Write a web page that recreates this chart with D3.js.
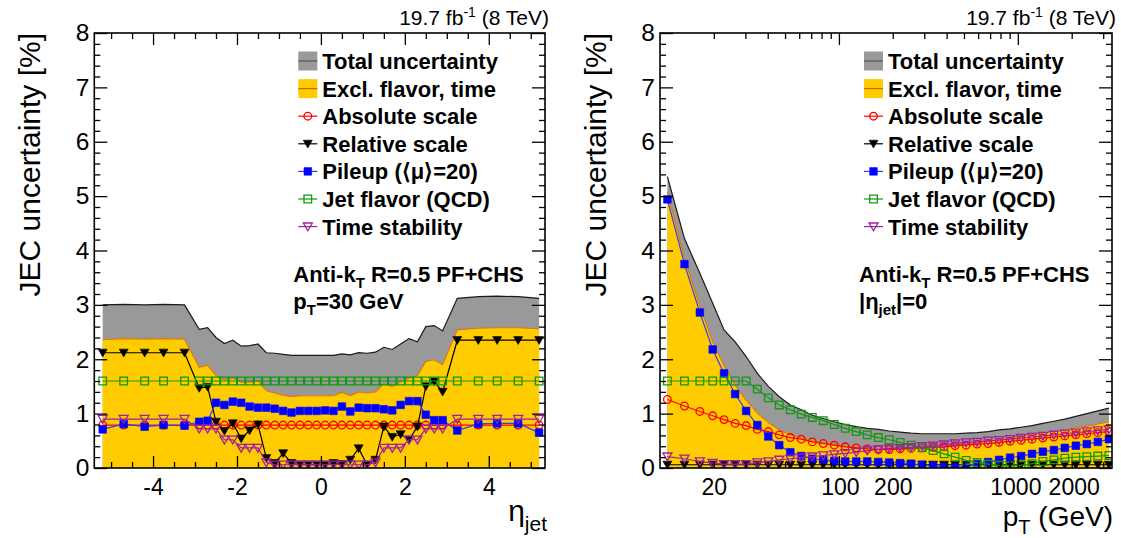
<!DOCTYPE html>
<html><head><meta charset="utf-8">
<script src="https://cdn.jsdelivr.net/npm/d3@7/dist/d3.min.js"></script>
<style>
html,body{margin:0;padding:0;background:#fff;}
svg{display:block;}
text{font-family:"Liberation Sans",Arial,Helvetica,sans-serif;fill:#000;}
</style></head><body>
<svg id="chart" width="1121" height="538"></svg>
<script>
// ---------------- Left panel: vs eta (pT = 30 GeV) ----------------
const etaPoints = [-5.2,-4.7,-4.2,-3.75,-3.25,-2.9,-2.7,-2.5,-2.3,-2.1,-1.9,-1.7,-1.5,-1.3,-1.1,-0.9,-0.7,-0.5,-0.3,-0.1,
                   0.1,0.3,0.5,0.7,0.9,1.1,1.3,1.5,1.7,1.9,2.1,2.3,2.5,2.7,2.9,3.25,3.75,4.2,4.7,5.2];
const etaTotal = [3.00,3.01,3.00,3.01,3.00,2.55,2.58,2.40,2.29,2.35,2.24,2.25,2.28,2.12,2.11,2.09,2.07,2.07,2.07,2.07,
                  2.07,2.07,2.10,2.08,2.12,2.11,2.13,2.22,2.18,2.28,2.38,2.32,2.60,2.62,2.52,3.12,3.15,3.16,3.15,3.12];
const etaExcl = [2.36,2.38,2.37,2.38,2.37,1.85,1.89,1.70,1.62,1.65,1.58,1.58,1.60,1.42,1.38,1.34,1.31,1.33,1.33,1.33,
                 1.33,1.33,1.39,1.33,1.40,1.38,1.40,1.55,1.50,1.58,1.65,1.70,1.96,1.99,1.90,2.54,2.57,2.58,2.58,2.56];
const etaAbsolute = [0.79,0.79,0.79,0.79,0.79,0.79,0.79,0.79,0.79,0.79,0.79,0.79,0.79,0.79,0.79,0.79,0.79,0.79,0.79,0.79,
                     0.79,0.79,0.79,0.79,0.79,0.79,0.79,0.79,0.79,0.79,0.79,0.79,0.79,0.79,0.79,0.79,0.79,0.79,0.79,0.79];
const etaRelative = [2.12,2.12,2.12,2.12,2.12,1.47,1.49,0.85,0.68,0.82,0.54,0.69,0.80,0.18,0.09,0.27,0.09,0.06,0.06,0.06,
                     0.06,0.09,0.07,0.15,0.36,0.06,0.15,0.76,0.57,0.62,0.52,0.76,1.50,1.59,1.40,2.35,2.35,2.35,2.35,2.35];
const etaPileup = [0.71,0.81,0.76,0.79,0.78,0.85,0.87,1.20,1.16,1.22,1.20,1.13,1.11,1.11,1.09,1.05,1.02,1.05,1.05,1.05,
                   1.06,1.05,1.13,1.04,1.11,1.10,1.10,1.08,1.06,1.16,1.23,1.23,0.98,0.88,0.88,0.69,0.81,0.82,0.82,0.65];
const etaFlavor = [1.6,1.6,1.6,1.6,1.6,1.6,1.6,1.6,1.6,1.6,1.6,1.6,1.6,1.6,1.6,1.6,1.6,1.6,1.6,1.6,
                   1.6,1.6,1.6,1.6,1.6,1.6,1.6,1.6,1.6,1.6,1.6,1.6,1.6,1.6,1.6,1.6,1.6,1.6,1.6,1.6];
const etaTime = [0.90,0.90,0.90,0.90,0.90,0.72,0.72,0.72,0.52,0.52,0.37,0.37,0.37,0.10,0.06,0.06,0.06,0.06,0.06,0.06,
                 0.06,0.06,0.06,0.06,0.06,0.06,0.10,0.37,0.37,0.37,0.52,0.52,0.72,0.72,0.72,0.90,0.90,0.90,0.90,0.90];

// ---------------- Right panel: vs pT (|eta| = 0) ----------------
const ptPoints = [11,13.7,16.7,19.7,22.8,26.3,30.3,35,40.3,46.4,53.5,61.6,71,81.8,94.2,108.5,125,144,166,191,
                  220,253,292,336,387,446,514,592,682,786,905,1043,1200,1380,1590,1830,2110,2430,2800,3230];
const ptTotal = [5.36,4.22,3.58,3.03,2.54,2.32,2.05,1.74,1.50,1.31,1.16,1.07,0.97,0.91,0.85,0.80,0.76,0.73,0.71,0.68,
                 0.66,0.64,0.63,0.63,0.63,0.63,0.64,0.65,0.67,0.70,0.72,0.75,0.78,0.82,0.86,0.90,0.95,1.00,1.05,1.10];
const ptExcl = [5.08,3.85,2.98,2.32,1.88,1.52,1.25,1.01,0.84,0.70,0.61,0.55,0.50,0.46,0.43,0.40,0.38,0.36,0.35,0.35,
                0.35,0.36,0.37,0.38,0.39,0.41,0.43,0.46,0.49,0.52,0.55,0.58,0.61,0.64,0.67,0.70,0.74,0.77,0.81,0.85];
const ptAbsolute = [1.26,1.14,1.04,0.96,0.89,0.82,0.78,0.71,0.67,0.61,0.56,0.53,0.48,0.45,0.42,0.39,0.37,0.35,0.34,0.34,
                    0.35,0.36,0.37,0.38,0.39,0.41,0.42,0.44,0.45,0.47,0.49,0.51,0.53,0.55,0.57,0.59,0.61,0.63,0.65,0.67];
const ptRelative = [0.06,0.06,0.06,0.06,0.06,0.06,0.06,0.06,0.06,0.06,0.06,0.06,0.06,0.06,0.06,0.06,0.06,0.06,0.06,0.06,
                    0.06,0.06,0.06,0.06,0.06,0.06,0.06,0.06,0.06,0.06,0.06,0.06,0.06,0.06,0.06,0.06,0.06,0.06,0.06,0.06];
const ptPileup = [4.94,3.75,2.86,2.18,1.74,1.36,1.05,0.79,0.58,0.42,0.29,0.22,0.17,0.15,0.13,0.12,0.12,0.12,0.11,0.10,
                  0.09,0.08,0.06,0.04,0.02,0.01,0.03,0.07,0.11,0.15,0.19,0.22,0.26,0.30,0.33,0.37,0.41,0.44,0.48,0.53];
const ptFlavor = [1.6,1.6,1.6,1.6,1.6,1.6,1.6,1.45,1.29,1.16,1.07,0.99,0.93,0.87,0.80,0.73,0.67,0.61,0.56,0.52,
                  0.47,0.42,0.37,0.32,0.26,0.20,0.14,0.10,0.07,0.05,0.04,0.05,0.08,0.12,0.15,0.18,0.20,0.21,0.22,0.23];
const ptTime = [0.21,0.17,0.12,0.09,0.07,0.07,0.07,0.10,0.12,0.15,0.17,0.19,0.21,0.23,0.25,0.27,0.29,0.32,0.34,0.36,
                0.37,0.38,0.40,0.41,0.43,0.45,0.47,0.48,0.50,0.51,0.53,0.55,0.57,0.59,0.61,0.63,0.65,0.67,0.69,0.71];

// ---------------- Ticks and labels ----------------
const yMajorTicks = [0,1,2,3,4,5,6,7,8];
const yTickLabels = ["0","1","2","3","4","5","6","7","8"];
const etaMajorTicks = [-4,-2,0,2,4];
const etaTickLabels = ["-4","-2","0","2","4"];
const etaMinorTicks = [-5,-4.5,-3.5,-3,-2.5,-1.5,-1,-0.5,0.5,1,1.5,2.5,3,3.5,4.5,5];
const ptMajorTicks = [100,1000];
const ptMinorTicks = [20,30,40,50,60,70,80,90,200,300,400,500,600,700,800,900,2000,3000];
const ptLabelTicks = [20,100,200,1000,2000];
const ptTickLabels = ["20","100","200","1000","2000"];
const legendLabels = ["Total uncertainty","Excl. flavor, time","Absolute scale","Relative scale","Pileup (\u27E8\u03BC\u27E9=20)","Jet flavor (QCD)","Time stability"];

// ---------------- Styles ----------------
const C = {
  grayFill:"#999999", grayLine:"#1a1a1a",
  yellowFill:"#ffcc00", yellowLine:"#dd7711",
  red:"#ff0000", black:"#000000", blue:"#0000ff", blueLine:"#3a3aff",
  green:"#119911", purple:"#a0209f"
};

const svg = d3.select("#chart");
const Y0 = 468, Y1 = 33;

function markerPath(type, cx, cy){
  switch(type){
    case "square": case "squareOpen": { const s=3.8; return `M${cx-s},${cy-s}h${2*s}v${2*s}h${-2*s}Z`; }
    case "tri": case "triOpen": return `M${cx-4.5},${cy-3.6}L${cx+4.5},${cy-3.6}L${cx},${cy+4.2}Z`;
    case "circle": { const r=3.8; return `M${cx-r},${cy}a${r},${r} 0 1,0 ${2*r},0a${r},${r} 0 1,0 ${-2*r},0Z`; }
  }
}
function styleMarker(sel, type, color){
  const open = type==="circle"||type==="squareOpen"||type==="triOpen";
  sel.attr("fill", open ? "none" : color).attr("stroke", color).attr("stroke-width", open ? 1.3 : 0.6);
}

function drawPanel(cfg){
  const x = cfg.x;
  const y = d3.scaleLinear().domain([0,8]).range([Y0,Y1]);
  const g = svg.append("g");
  const id = "clip"+cfg.name;
  svg.append("defs").append("clipPath").attr("id",id).append("rect")
     .attr("x",x.range()[0]).attr("y",Y1).attr("width",x.range()[1]-x.range()[0]).attr("height",Y0-Y1);
  const plot = g.append("g").attr("clip-path",`url(#${id})`);
  const xs = cfg.xs;
  const idx = xs.map((d,i)=>i);
  const area = vals => d3.area().x(i=>x(xs[i])).y0(y(0)).y1(i=>y(vals[i]));
  const line = vals => d3.line().x(i=>x(xs[i])).y(i=>y(vals[i]));
  plot.append("path").attr("d",area(cfg.total)(idx)).attr("fill",C.grayFill);
  plot.append("path").attr("d",line(cfg.total)(idx)).attr("fill","none").attr("stroke",C.grayLine).attr("stroke-width",1.2);
  plot.append("path").attr("d",area(cfg.excl)(idx)).attr("fill",C.yellowFill);
  plot.append("path").attr("d",line(cfg.excl)(idx)).attr("fill","none").attr("stroke",C.yellowLine).attr("stroke-width",1.1);

  const series = [
    {vals:cfg.abs, type:"circle", color:C.red, lc:C.red},
    {vals:cfg.rel, type:"tri", color:C.black, lc:C.black},
    {vals:cfg.pu, type:"square", color:C.blue, lc:C.blueLine},
    {vals:cfg.flav, type:"squareOpen", color:C.green, lc:C.green},
    {vals:cfg.time, type:"triOpen", color:C.purple, lc:C.purple}
  ];
  series.forEach(s=>{
    plot.append("path").attr("d",line(s.vals)(idx)).attr("fill","none").attr("stroke",s.lc).attr("stroke-width",1.2);
    plot.append("g").selectAll("path").data(idx).join("path")
      .attr("d",i=>markerPath(s.type, x(xs[i]), y(s.vals[i])))
      .call(styleMarker, s.type, s.color);
  });

  // axes (ticks inward on all four sides)
  const ax = g.append("g").attr("class","axes");
  const strip = a => { a.select(".domain").remove(); a.selectAll(".tick line").attr("stroke","#000").attr("stroke-width",1.3); };
  const fam = '"Liberation Sans",Arial,sans-serif';
  ax.append("g").attr("transform",`translate(0,${Y0})`)
    .call(d3.axisBottom(x).tickValues(cfg.majorTicks).tickSize(-12).tickSizeOuter(0).tickFormat(()=>""))
    .call(strip);
  ax.append("g").attr("transform",`translate(0,${Y0})`)
    .call(d3.axisBottom(x).tickValues(cfg.minorTicks).tickSize(-6).tickSizeOuter(0).tickFormat(()=>""))
    .call(strip);
  ax.append("g").attr("transform",`translate(0,${Y0})`)
    .call(d3.axisBottom(x).tickValues(cfg.labelTicks).tickSize(0).tickPadding(11).tickFormat((d,i)=>cfg.labels[i]))
    .call(a=>{a.select(".domain").remove();
      a.selectAll("text").attr("font-size",23).attr("fill","#000").attr("font-family",fam)
       .attr("dx",(d,i)=>cfg.labelShift ? cfg.labelShift[i] : 0);});
  ax.append("g").attr("transform",`translate(0,${Y1})`)
    .call(d3.axisTop(x).tickValues(cfg.majorTicks).tickSize(-12).tickSizeOuter(0).tickFormat(()=>"")).call(strip);
  ax.append("g").attr("transform",`translate(0,${Y1})`)
    .call(d3.axisTop(x).tickValues(cfg.minorTicks).tickSize(-6).tickSizeOuter(0).tickFormat(()=>"")).call(strip);
  const xl = x.range()[0], xr = x.range()[1];
  const yMinor = d3.range(0,8.001,0.2).filter(v=>Math.abs(v-Math.round(v))>1e-6);
  ax.append("g").attr("transform",`translate(${xl},0)`)
    .call(d3.axisLeft(y).tickValues(yMajorTicks).tickSize(-13).tickSizeOuter(0).tickPadding(5).tickFormat((d,i)=>yTickLabels[i]))
    .call(strip).call(a=>a.selectAll("text").attr("font-size",24.5).attr("fill","#000").attr("font-family",fam));
  ax.append("g").attr("transform",`translate(${xl},0)`)
    .call(d3.axisLeft(y).tickValues(yMinor).tickSize(-6).tickSizeOuter(0).tickFormat(()=>"")).call(strip);
  ax.append("g").attr("transform",`translate(${xr},0)`)
    .call(d3.axisRight(y).tickValues(yMajorTicks).tickSize(-13).tickSizeOuter(0).tickFormat(()=>"")).call(strip);
  ax.append("g").attr("transform",`translate(${xr},0)`)
    .call(d3.axisRight(y).tickValues(yMinor).tickSize(-6).tickSizeOuter(0).tickFormat(()=>"")).call(strip);
  g.append("rect").attr("x",xl).attr("y",Y1).attr("width",xr-xl).attr("height",Y0-Y1)
   .attr("fill","none").attr("stroke","#000").attr("stroke-width",1.6);

  g.append("text").attr("transform",`translate(${xl-54},${Y1}) rotate(-90)`)
   .attr("text-anchor","end").attr("font-size",30).text("JEC uncertainty [%]");
  const lt = g.append("text").attr("x",xr+4).attr("y",25).attr("text-anchor","end").attr("font-size",21);
  lt.append("tspan").text("19.7 fb");
  lt.append("tspan").attr("dy",-8).attr("font-size",14).text("-1");
  lt.append("tspan").attr("dy",8).text(" (8 TeV)");

  const lx = xl+204, ty = 61, dyL = 27.6;
  legendLabels.forEach((lab,i)=>{
    const cy = ty + i*dyL;
    if(i<2){
      g.append("rect").attr("x",lx).attr("y",cy-9.5).attr("width",19).attr("height",19)
        .attr("fill", i===0?C.grayFill:C.yellowFill);
      g.append("line").attr("x1",lx).attr("x2",lx+19).attr("y1",cy).attr("y2",cy)
        .attr("stroke", i===0?"#555":"#e05a00").attr("stroke-width",1.2);
    } else {
      const s = series[i-2];
      g.append("line").attr("x1",lx).attr("x2",lx+19).attr("y1",cy).attr("y2",cy).attr("stroke",s.lc).attr("stroke-width",1.2);
      g.append("path").attr("d",markerPath(s.type,lx+9.5,cy)).call(styleMarker,s.type,s.color);
    }
    g.append("text").attr("x",lx+24).attr("y",cy+8).attr("font-size",22).attr("font-weight","bold").text(lab);
  });

  const ax0 = xl+199;
  const t1 = g.append("text").attr("x",ax0).attr("y",282).attr("font-size",22).attr("font-weight","bold");
  t1.append("tspan").text("Anti-k");
  t1.append("tspan").attr("dy",6).attr("font-size",15).text("T");
  t1.append("tspan").attr("dy",-6).text(" R=0.5 PF+CHS");
  const t2 = g.append("text").attr("x",ax0).attr("y",309).attr("font-size",22).attr("font-weight","bold");
  cfg.annot2(t2);

  cfg.xtitle(g, xr);
}

drawPanel({
  name:"L",
  x: d3.scaleLinear().domain([-5.4,5.34]).range([94.3,545]),
  xs: etaPoints, total: etaTotal, excl: etaExcl, abs: etaAbsolute, rel: etaRelative,
  pu: etaPileup, flav: etaFlavor, time: etaTime,
  majorTicks: etaMajorTicks, minorTicks: etaMinorTicks, labelTicks: etaMajorTicks, labels: etaTickLabels,
  annot2: t=>{ t.append("tspan").text("p"); t.append("tspan").attr("dy",6).attr("font-size",15).text("T");
               t.append("tspan").attr("dy",-6).text("=30 GeV"); },
  xtitle: (g,xr)=>{ const t=g.append("text").attr("x",xr+2).attr("y",521).attr("text-anchor","end").attr("font-size",30);
               t.append("tspan").text("\u03B7"); t.append("tspan").attr("dy",10).attr("font-size",21).text("jet"); }
});
drawPanel({
  name:"R",
  x: d3.scaleLog().domain([10,3360]).range([660,1112]),
  xs: ptPoints, total: ptTotal, excl: ptExcl, abs: ptAbsolute, rel: ptRelative,
  pu: ptPileup, flav: ptFlavor, time: ptTime,
  majorTicks: ptMajorTicks, minorTicks: ptMinorTicks, labelTicks: ptLabelTicks, labels: ptTickLabels,
  labelShift: [0,1,0,-2.5,2],
  annot2: t=>{ t.append("tspan").text("|\u03B7"); t.append("tspan").attr("dy",6).attr("font-size",15).text("jet");
               t.append("tspan").attr("dy",-6).text("|=0"); },
  xtitle: (g,xr)=>{ const t=g.append("text").attr("x",xr+1).attr("y",526).attr("text-anchor","end").attr("font-size",28);
               t.append("tspan").text("p"); t.append("tspan").attr("dy",8).attr("font-size",20).text("T");
               t.append("tspan").attr("dy",-8).text(" (GeV)"); }
});
</script>
</body></html>
